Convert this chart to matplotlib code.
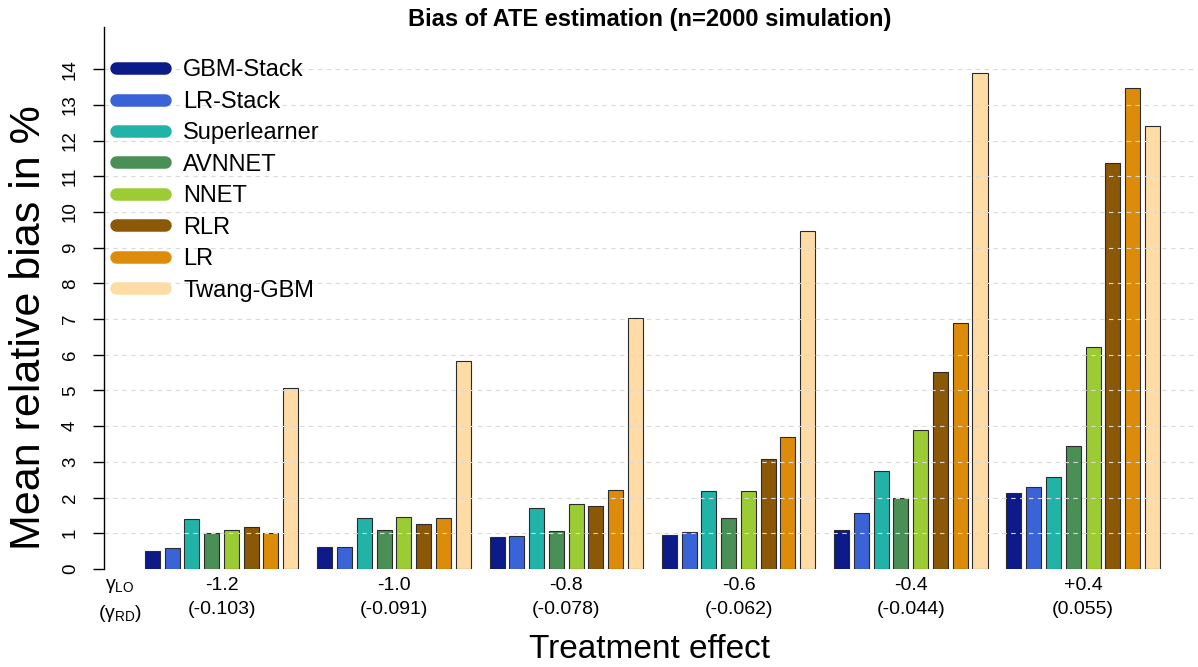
import numpy as np
import matplotlib
matplotlib.use("Agg")
import matplotlib.pyplot as plt
from matplotlib.lines import Line2D

plt.rcParams['font.family'] = ['Liberation Sans', 'DejaVu Sans']
plt.rcParams['mathtext.fontset'] = 'custom'
plt.rcParams['mathtext.rm'] = 'Liberation Sans'

# data
methods = ['GBM-Stack', 'LR-Stack', 'Superlearner', 'AVNNET', 'NNET', 'RLR', 'LR', 'Twang-GBM']
gamma_lo = ['-1.2', '-1.0', '-0.8', '-0.6', '-0.4', '+0.4']
gamma_rd = ['(-0.103)', '(-0.091)', '(-0.078)', '(-0.062)', '(-0.044)', '(0.055)']

gbm_stack = [0.51, 0.61, 0.90, 0.96, 1.08, 2.14]
lr_stack = [0.60, 0.62, 0.92, 1.04, 1.58, 2.30]
superlearner = [1.41, 1.44, 1.70, 2.19, 2.75, 2.58]
avnnet = [1.00, 1.10, 1.06, 1.42, 1.98, 3.45]
nnet = [1.10, 1.46, 1.82, 2.19, 3.90, 6.22]
rlr = [1.18, 1.26, 1.76, 3.07, 5.52, 11.36]
lr = [1.00, 1.42, 2.21, 3.69, 6.89, 13.47]
twang_gbm = [5.07, 5.83, 7.03, 9.47, 13.90, 12.42]

series = [gbm_stack, lr_stack, superlearner, avnnet, nnet, rlr, lr, twang_gbm]
colors = ['#0c1a8a', '#3b63d8', '#22b3a8', '#4a8f55', '#9ccc34',
          '#8a5806', '#dd8c0a', '#ffdca6']

fig = plt.figure(figsize=(11.98, 6.67), dpi=100)
ax = fig.add_axes([104 / 1198, 98 / 667, (1195 - 104) / 1198, (569 - 27) / 667])

group_step = 8.72
width = 0.76
xg = np.arange(len(gamma_lo)) * group_step
for i, (vals, col) in enumerate(zip(series, colors)):
    ax.bar(xg + i, vals, width=width, color=col, edgecolor='#2b2b2b',
           linewidth=0.8, zorder=1)

yticks = np.arange(0, 15)
ax.hlines(yticks[1:], 0, 1, transform=ax.get_yaxis_transform(),
          colors='#dadada', linestyles=(0, (4, 4)), linewidth=0.8, zorder=2)

ax.set_xlim(-2.45, 52.76)
ax.set_ylim(0, 15.18)
ax.set_yticks(yticks)
ax.tick_params(axis='y', length=8, width=1, pad=10, labelsize=13.5, labelrotation=90)
for lab in ax.get_yticklabels():
    lab.set_va('center')

centers = list(xg + 3.5)
xlabels = [a + '\n' + b for a, b in zip(gamma_lo, gamma_rd)]
ax.set_xticks([-1.64] + centers)
ax.set_xticklabels(['γ$_{\\rm LO}$\n(γ$_{\\rm RD}$)'] + xlabels)
ax.tick_params(axis='x', length=0, pad=6, labelsize=14)
for lab in ax.get_xticklabels():
    lab.set_linespacing(1.5)

for s in ['top', 'right', 'bottom']:
    ax.spines[s].set_visible(False)
ax.spines['left'].set_linewidth(1)

ax.set_ylabel('Mean relative bias in %', fontsize=31)
ax.yaxis.set_label_coords(-0.05, 0.445)
ax.set_xlabel('Treatment effect', fontsize=24, labelpad=7)
ax.set_title('Bias of ATE estimation (n=2000 simulation)', fontsize=17,
             fontweight='bold', y=1.0, pad=1)

handles = [Line2D([], [], color=c, lw=9, solid_capstyle='round') for c in colors]
ax.legend(handles, methods, loc='upper left', bbox_to_anchor=(0.0, 0.962),
          frameon=False, fontsize=17, handlelength=2.1, handletextpad=0.75,
          labelspacing=0.4, borderaxespad=0, borderpad=0.5)

fig.savefig('out.png', dpi=100)
